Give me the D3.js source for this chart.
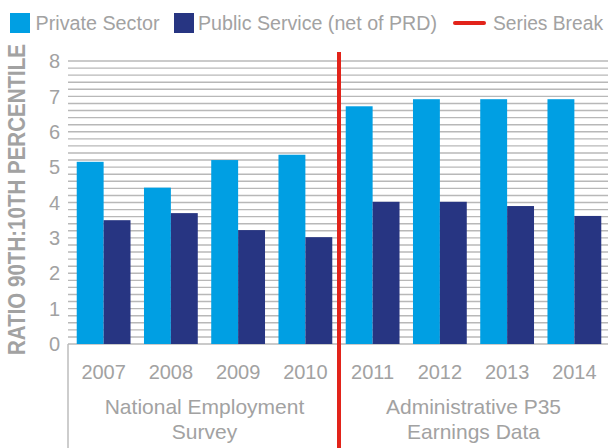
<!DOCTYPE html>
<html>
<head>
<meta charset="utf-8">
<script src="https://cdn.jsdelivr.net/npm/d3@7"></script>
<style>
  html, body { margin: 0; padding: 0; background: #fff; }
  svg { display: block; font-family: "Liberation Sans", Arial, Helvetica, sans-serif; }
</style>
</head>
<body>
<svg id="chart" width="608" height="448"></svg>
<script>
// ---- data ----
const years = ["2007", "2008", "2009", "2010", "2011", "2012", "2013", "2014"];
const privateSector = [5.15, 4.42, 5.2, 5.35, 6.72, 6.92, 6.92, 6.92];
const publicService = [3.5, 3.7, 3.22, 3.02, 4.02, 4.02, 3.9, 3.62];
const seriesNames = ["Private Sector", "Public Service (net of PRD)"];
const breakLabel = "Series Break";
const groupLabels = [
  { first: "2007", last: "2010", lines: ["National Employment", "Survey"] },
  { first: "2011", last: "2014", lines: ["Administrative P35", "Earnings Data"] }
];
const yTicks = [0, 1, 2, 3, 4, 5, 6, 7, 8];
const yTitle = "RATIO 90TH:10TH PERCENTILE";

// ---- styles ----
const cPrivate = "#009FE3";
const cPublic = "#273582";
const cBreak = "#E2231A";
const cText = "#A2A2A2";
const cGrid = "#B8B8B8";

const svg = d3.select("#chart");
const left = 70, right = 608;

const x = d3.scaleBand().domain(years).range([left, right]).paddingInner(0.2).paddingOuter(0.1);
const xs = d3.scaleBand().domain([0, 1]).range([0, x.bandwidth()]);
const y = d3.scaleLinear().domain([0, 8]).range([344, 61]);

// gridlines every 0.2
const gridVals = d3.range(0, 40).map(i => (i + 1) * 0.2);
svg.append("g").selectAll("line").data(gridVals).join("line")
  .attr("x1", left - 2).attr("x2", right)
  .attr("y1", d => y(d)).attr("y2", d => y(d))
  .attr("stroke", cGrid).attr("stroke-width", 1.4);

// zero line and lower axis
svg.append("line").attr("x1", left - 2).attr("x2", right).attr("y1", y(0)).attr("y2", y(0))
  .attr("stroke", cGrid).attr("stroke-width", 1.4);
svg.append("line").attr("x1", left - 2).attr("x2", left - 2).attr("y1", y(0)).attr("y2", 448)
  .attr("stroke", cGrid).attr("stroke-width", 1.4);

// bars
const rows = years.map((yr, i) => ({ yr, vals: [privateSector[i], publicService[i]] }));
const g = svg.append("g");
rows.forEach(r => {
  r.vals.forEach((v, j) => {
    g.append("rect")
      .attr("x", x(r.yr) + xs(j))
      .attr("y", y(v))
      .attr("width", xs.bandwidth())
      .attr("height", y(0) - y(v))
      .attr("fill", j === 0 ? cPrivate : cPublic);
  });
});

// y tick labels
svg.append("g").selectAll("text").data(yTicks).join("text")
  .attr("x", 60).attr("y", d => y(d)).attr("dy", "0.36em")
  .attr("text-anchor", "end").attr("font-size", 20).attr("fill", cText)
  .text(d => d);

// y title
svg.append("text")
  .attr("transform", "translate(25,199.5) rotate(-90)")
  .attr("text-anchor", "middle").attr("font-size", 23).attr("font-weight", "bold")
  .attr("fill", cText)
  .attr("textLength", 311).attr("lengthAdjust", "spacingAndGlyphs")
  .text(yTitle);

// year labels
svg.append("g").selectAll("text").data(years).join("text")
  .attr("x", d => x(d) + x.bandwidth() / 2).attr("y", 379)
  .attr("text-anchor", "middle").attr("font-size", 20).attr("fill", cText)
  .text(d => d);

// group labels
groupLabels.forEach(gl => {
  const x0 = gl.first === years[0] ? left : x(gl.first) - x.step() * x.paddingInner() / 2;
  const x1 = gl.last === years[years.length - 1] ? right : x(gl.last) + x.bandwidth() + x.step() * x.paddingInner() / 2;
  const c = (x0 + x1) / 2;
  gl.lines.forEach((t, i) => {
    svg.append("text").attr("x", c).attr("y", 414 + i * 25)
      .attr("text-anchor", "middle").attr("font-size", 21).attr("fill", cText).text(t);
  });
});

// series break line
const breakX = (x("2010") + x.bandwidth() + x("2011")) / 2;
svg.append("line").attr("x1", breakX).attr("x2", breakX).attr("y1", 52).attr("y2", 448)
  .attr("stroke", cBreak).attr("stroke-width", 4);

// legend
const leg = svg.append("g");
leg.append("rect").attr("x", 10).attr("y", 13).attr("width", 20).attr("height", 20).attr("fill", cPrivate);
leg.append("text").attr("x", 35.5).attr("y", 30).attr("font-size", 20).attr("fill", cText)
  .attr("textLength", 124).attr("lengthAdjust", "spacingAndGlyphs").text(seriesNames[0]);
leg.append("rect").attr("x", 174).attr("y", 13).attr("width", 20).attr("height", 20).attr("fill", cPublic);
leg.append("text").attr("x", 198).attr("y", 30).attr("font-size", 20).attr("fill", cText)
  .attr("textLength", 239).attr("lengthAdjust", "spacingAndGlyphs").text(seriesNames[1]);
leg.append("line").attr("x1", 455).attr("x2", 484).attr("y1", 23).attr("y2", 23)
  .attr("stroke", cBreak).attr("stroke-width", 4).attr("stroke-linecap", "round");
leg.append("text").attr("x", 493).attr("y", 30).attr("font-size", 20).attr("fill", cText)
  .attr("textLength", 110).attr("lengthAdjust", "spacingAndGlyphs").text(breakLabel);
</script>
</body>
</html>
